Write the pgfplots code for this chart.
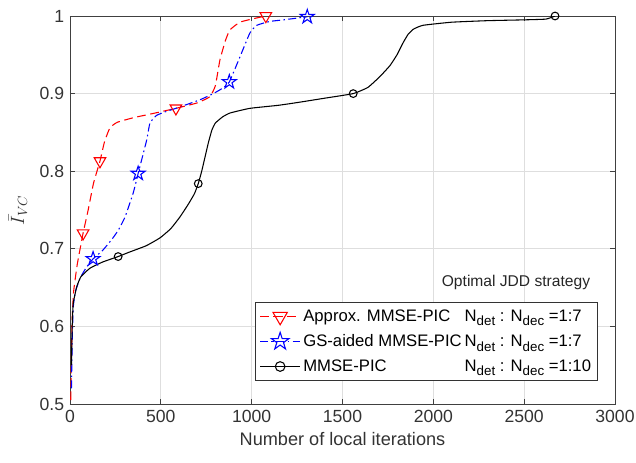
\documentclass[border=0pt]{standalone}
\usepackage{fontspec}
\setmainfont{Liberation Sans}
\usepackage{pgfplots}
\pgfplotsset{compat=1.18}
\pgfdeclareplotmark{pentastar}{%
  \pgfpathmoveto{\pgfpointpolar{90}{\pgfplotmarksize}}%
  \pgfpathlineto{\pgfpointpolar{126}{0.382\pgfplotmarksize}}%
  \pgfpathlineto{\pgfpointpolar{162}{\pgfplotmarksize}}%
  \pgfpathlineto{\pgfpointpolar{198}{0.382\pgfplotmarksize}}%
  \pgfpathlineto{\pgfpointpolar{234}{\pgfplotmarksize}}%
  \pgfpathlineto{\pgfpointpolar{270}{0.382\pgfplotmarksize}}%
  \pgfpathlineto{\pgfpointpolar{306}{\pgfplotmarksize}}%
  \pgfpathlineto{\pgfpointpolar{342}{0.382\pgfplotmarksize}}%
  \pgfpathlineto{\pgfpointpolar{18}{\pgfplotmarksize}}%
  \pgfpathlineto{\pgfpointpolar{54}{0.382\pgfplotmarksize}}%
  \pgfpathclose\pgfusepathqstroke}
\newcommand{\sub}[1]{\raisebox{-0.55ex}{\fontsize{10}{10}\selectfont #1}}
\newcommand{\NN}{N\sub{det} : N\sub{dec}}
\definecolor{axgray}{gray}{0.25}
\begin{document}
\fontsize{12.5}{15}\selectfont
\begin{tikzpicture}
\begin{axis}[
  scale only axis, width=408.75pt, height=291pt,
  xmin=0, xmax=3000, ymin=0.5, ymax=1,
  xtick={0,500,1000,1500,2000,2500,3000},
  ytick={0.5,0.6,0.7,0.8,0.9,1},
  scaled x ticks=false,
  /pgf/number format/1000 sep={},
  /pgf/number format/assume math mode=true,
  ticklabel style={font=\fontsize{13.2}{15}\selectfont, text=black!80},
  tick align=inside, major tick length=4pt,
  tick style={axgray, line width=0.5pt},
  axis line style={axgray, line width=0.6pt},
  grid=major, major grid style={black!13, line width=0.5pt},
  xlabel={Number of local iterations},
  ylabel={$\bar{I}_{VC}$},
  label style={font=\fontsize{13.6}{15}\selectfont, text=black!80},
  xlabel style={yshift=1pt},
  ylabel style={yshift=1pt},
  legend style={at={(rel axis cs:0.969,0.262)}, anchor=north east,
    draw=black!80, line width=0.6pt, fill=white,
    font=\fontsize{12.5}{15}\selectfont, row sep=4pt,
    inner xsep=3pt, inner ysep=3pt,
    cells={anchor=west}},
  legend cell align=left,
  legend image code/.code={\draw[#1, mark indices={2},
     every mark/.append style={scale=1.25}]
     plot coordinates {(0pt,0pt)(15pt,0pt)(30pt,0pt)};},
]
% Approx. MMSE-PIC
\addplot[red, line width=0.8pt, dash pattern=on 6.5pt off 3.5pt,
  smooth, tension=0.25,
  mark=triangle, mark size=5pt, mark options={solid, rotate=180, line width=0.8pt},
  mark indices={6,9,15,24}] coordinates {
(4,0.505)(8,0.56)(12,0.61)(20,0.645)(40,0.68)(72,0.720)
(100,0.75)(130,0.785)(165,0.813)(190,0.838)(220,0.856)(260,0.863)
(350,0.869)(450,0.874)(583,0.881)(700,0.888)(770,0.896)(800,0.91)
(825,0.943)(855,0.968)(880,0.982)(935,0.992)(1018,0.997)(1078,1.0)};
\addlegendentry{\makebox[121pt][l]{Approx. MMSE-PIC}\NN\ =1:7}
% GS-aided MMSE-PIC
\addplot[blue, line width=0.8pt, dash pattern=on 6pt off 2.5pt on 1.2pt off 2.5pt,
  smooth, tension=0.25,
  mark=pentastar, mark size=5.5pt, mark options={solid, line width=0.8pt},
  mark indices={7,13,22,28}] coordinates {
(8,0.52)(12,0.58)(18,0.625)(30,0.645)(55,0.662)(90,0.676)(127,0.687)
(180,0.698)(230,0.712)(266,0.724)(303,0.741)(348,0.772)(375,0.797)
(422,0.840)(440,0.862)(477,0.872)(530,0.877)(583,0.881)(715,0.892)
(789,0.900)(840,0.907)(877,0.915)(935,0.947)(990,0.978)(1028,0.988)
(1100,0.993)(1174,0.995)(1306,0.999)};
\addlegendentry{\makebox[121pt][l]{GS-aided MMSE-PIC}\NN\ =1:7}
% MMSE-PIC
\addplot[black, line width=0.8pt, smooth, tension=0.25,
  mark=o, mark size=2.9pt, mark options={line width=0.8pt},
  mark indices={8,16,28,41}] coordinates {
(8,0.55)(12,0.60)(18,0.63)(37,0.651)(60,0.664)(110,0.675)(180,0.683)
(265,0.690)(330,0.696)(420,0.704)(495,0.714)(555,0.726)(605,0.741)
(650,0.757)(685,0.771)(706,0.784)(725,0.800)(743,0.818)(762,0.837)
(781,0.853)(800,0.862)(840,0.870)(881,0.875)(990,0.881)(1150,0.885)
(1266,0.889)(1400,0.894)(1559,0.900)(1640,0.908)(1706,0.922)(1761,0.936)
(1800,0.950)(1830,0.964)(1860,0.976)(1890,0.983)(1943,0.988)(2100,0.992)
(2300,0.994)(2493,0.995)(2620,0.996)(2670,1.0)};
\addlegendentry{\makebox[121pt][l]{MMSE-PIC}\NN\ =1:10}
\node[anchor=east, font=\fontsize{11.7}{14}\selectfont, text=black!85] at (rel axis cs:0.965,0.314) {Optimal JDD strategy};
\end{axis}
\pgfresetboundingbox
\path (-52.5pt,-44.25pt) rectangle (424.5pt,303pt);
\end{tikzpicture}
\end{document}
